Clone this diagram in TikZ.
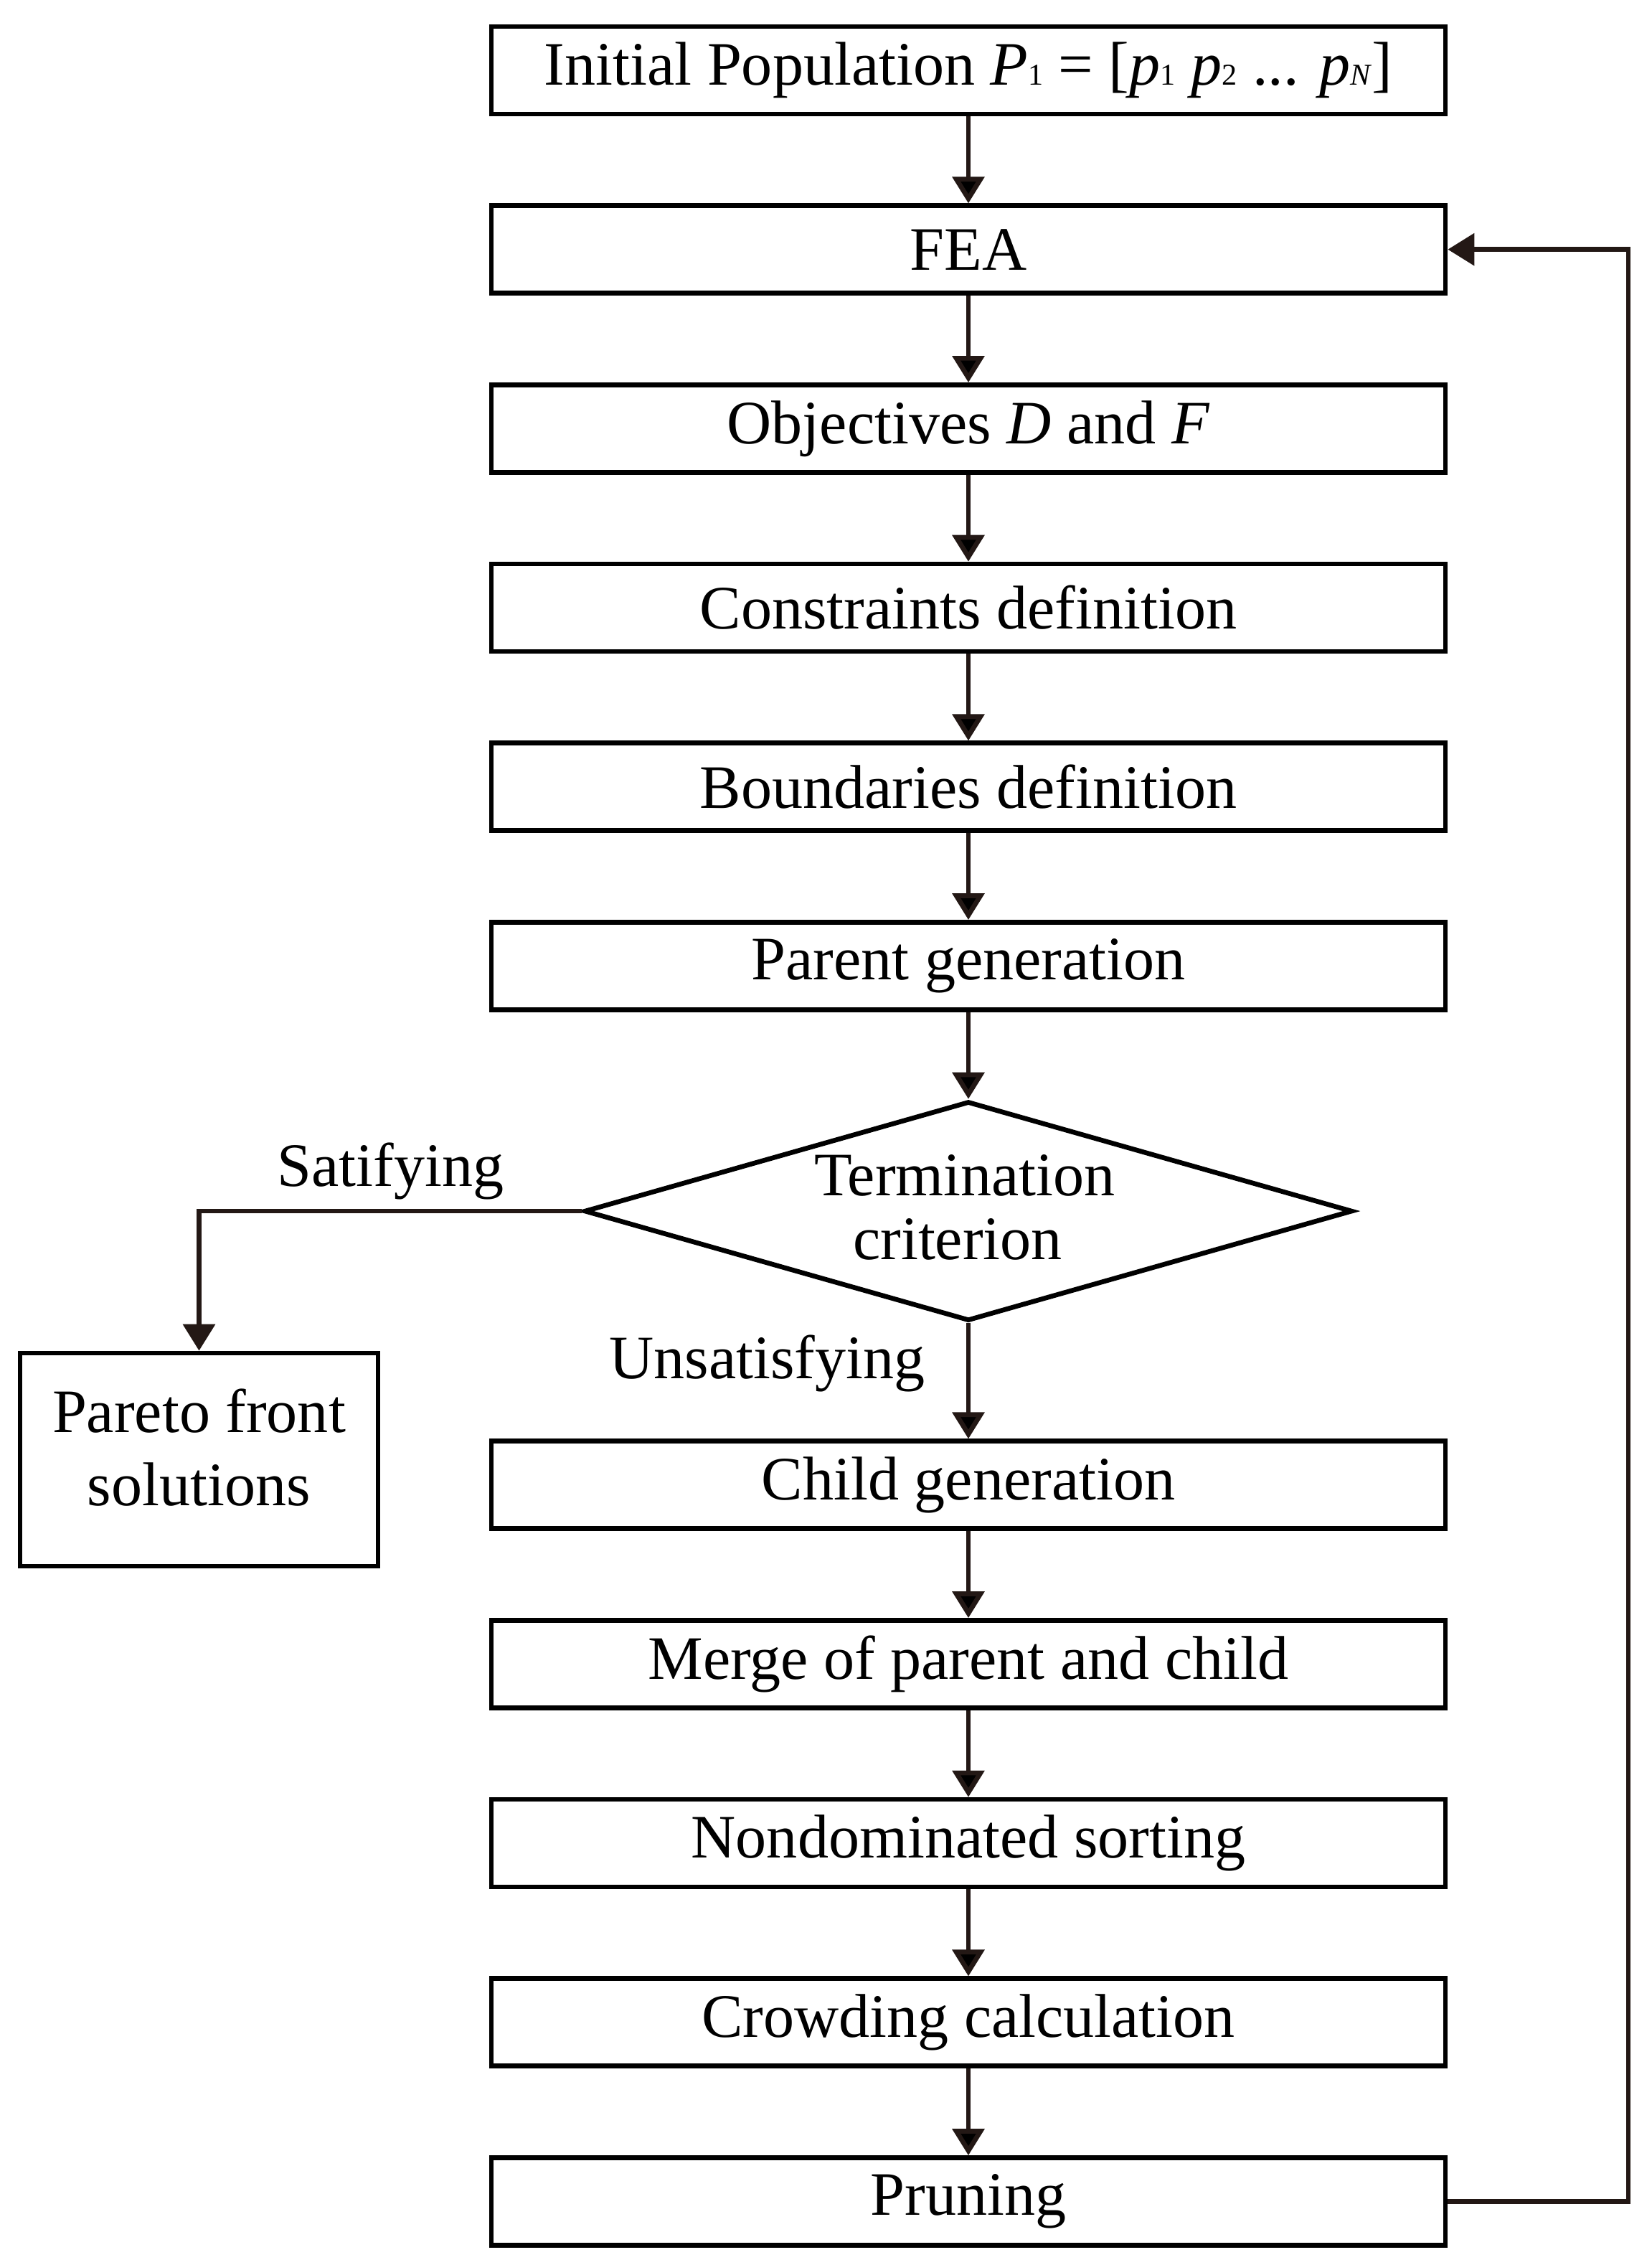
\documentclass[tikz,border=0pt]{standalone}
\usepackage{fontspec}
\setmainfont{Liberation Serif}
\usetikzlibrary{arrows.meta, shapes.geometric, positioning}
\definecolor{flowline}{HTML}{231815}
\newcommand{\lowidx}[1]{{\fontsize{12}{12}\selectfont #1}}

\begin{document}
\begin{tikzpicture}[
  node distance=1.21cm,
  every node/.style={font=\fontsize{24.5}{25.5}\selectfont, inner sep=2pt},
  stepbox/.style={draw, line width=1.9pt, minimum height=1.22cm, minimum width=13.3cm},
  decision/.style={draw, diamond, line width=1.9pt, minimum height=3.06cm, minimum width=10.71cm, inner sep=0pt},
  flow/.style={draw=flowline, line width=1.9pt, -{Triangle[length=3.7mm, width=4.4mm]}}
  ]
  \useasboundingbox (0,0) rectangle (23.02,-31.57);

  \node[stepbox] (init) at (13.50,-0.98) {Initial Population \textit{P}\lowidx{1} = [\textit{p}\lowidx{1} \textit{p}\lowidx{2} ... \textit{p}\lowidx{\textit{N}}]};
  \draw node[stepbox, below=of init](fea) {FEA}
  node[stepbox, below=of fea](obj) {Objectives \textit{D} and \textit{F}}
  node[stepbox, below=of obj](cons) {Constraints definition}
  node[stepbox, below=of cons](bound) {Boundaries definition}
  node[stepbox, below=of bound](parent) {Parent generation};

  \draw node[decision, below=of parent](term) {}
  node[align=center, xshift=-0.05cm, yshift=0.05cm] at (term) (termtext) {Termination\\\hspace*{-0.2cm}criterion};

  \draw node[stepbox, below=1.61cm of term](child) {Child generation}
  node[stepbox, below=of child](merge) {Merge of parent and child}
  node[stepbox, below=of merge](nondom) {Nondominated sorting}
  node[stepbox, below=of nondom](crowd) {Crowding calculation}
  node[stepbox, below=of crowd](prune) {Pruning};

  \draw node[draw, line width=1.9pt, minimum width=4.99cm, minimum height=2.97cm, align=center, font=\fontsize{24.5}{29}\selectfont, text depth=0.34cm] (pareto) at (2.775,-20.345) {Pareto front\\solutions};

  \coordinate (loop) at (22.70,0);

  \path[flow] (init) edge (fea)
  (fea) edge (obj)
  (obj) edge (cons)
  (cons) edge (bound)
  (bound) edge (parent)
  (parent) edge (term)
  (term) edge node[left=0.5cm, pos=0.35]{Unsatisfying} (child)
  (child) edge (merge)
  (merge) edge (nondom)
  (nondom) edge (crowd)
  (crowd) edge (prune);

  \draw[flow] (term.west) -| node[pos=0.25, above=0.06cm] {Satifying} (pareto.north);
  \draw[flow] (prune.east) -- (prune.east -| loop) |- (fea.east);
\end{tikzpicture}
\end{document}
